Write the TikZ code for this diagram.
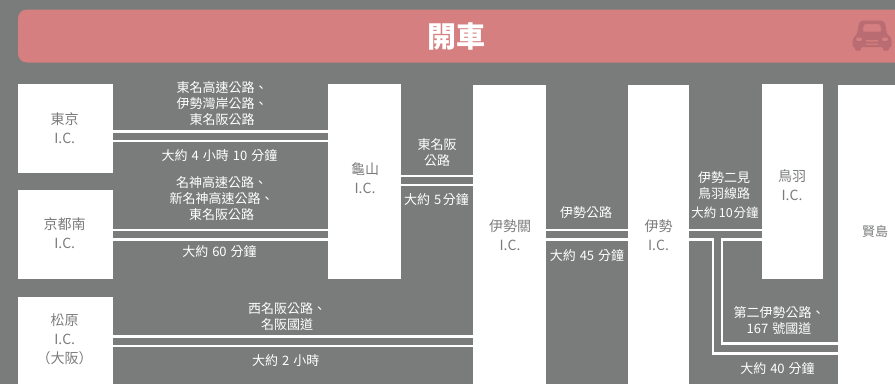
\documentclass[tikz,border=0pt]{standalone}
\usepackage{fontspec}
\setmainfont{Noto Sans CJK TC}
\definecolor{bgc}{HTML}{7A7C7B}
\definecolor{bannerc}{HTML}{D67F80}
\definecolor{carc}{HTML}{B96C72}
\newcommand{\rsp}{\hspace{4pt}}
\tikzset{
  x=1pt,y=1pt,
  icbox/.style={fill=white,draw=none,inner sep=0pt,anchor=north west},
  boxtext/.style={text=bgc,font=\fontsize{14}{19}\selectfont,align=center,inner sep=0pt},
  roadtext/.style={text=white,font=\fontsize{13}{16}\selectfont,align=center,inner sep=0pt},
  road/.style={draw=white,line width=2.4pt},
}
\begin{document}
\begin{tikzpicture}
\useasboundingbox (0,0) rectangle (895,-384);
\fill[bgc] (0,0) rectangle (895,-384);
\begin{scope}
\clip (0,0) rectangle (895,-384);
\fill[bannerc,rounded corners=9pt] (18,-9.5) rectangle (915,-62.5);
% boxes
\node[icbox,minimum width=95pt,minimum height=89pt] (tokyo) at (18,-84) {};
\node[icbox,minimum width=95pt,minimum height=89pt] (kyoto) at (18,-190) {};
\node[icbox,minimum width=95pt,minimum height=87pt] (matsu) at (18,-297) {};
\node[icbox,minimum width=73pt,minimum height=195pt] (kame) at (328,-84) {};
\node[icbox,minimum width=73pt,minimum height=299pt] (sekiic) at (473,-85) {};
\node[icbox,minimum width=61pt,minimum height=299pt] (iseic) at (628,-85) {};
\node[icbox,minimum width=61pt,minimum height=195pt] (toba) at (762,-84) {};
\node[icbox,minimum width=60pt,minimum height=299pt] (kashi) at (838,-85) {};
% level coordinates
\coordinate (la) at (0,-131.3);
\coordinate (lb) at (0,-141);
\coordinate (lc) at (0,-230.2);
\coordinate (ld) at (0,-239.4);
\coordinate (le) at (0,-336.5);
\coordinate (lf) at (0,-346);
\coordinate (lg) at (0,-176);
\coordinate (lh) at (0,-185);
\coordinate (li) at (0,-343.3);
\coordinate (lj) at (0,-353.3);
\coordinate (va) at (712.8,0);
\coordinate (vb) at (722,0);
% connectors
\draw[road] (tokyo.east |- la) -- (kame.west |- la);
\draw[road] (tokyo.east |- lb) -- (kame.west |- lb);
\draw[road] (kyoto.east |- lc) -- (kame.west |- lc);
\draw[road] (kyoto.east |- ld) -- (kame.west |- ld);
\draw[road] (matsu.east |- le) -- (sekiic.west |- le);
\draw[road] (matsu.east |- lf) -- (sekiic.west |- lf);
\draw[road] (kame.east |- lg) -- (sekiic.west |- lg);
\draw[road] (kame.east |- lh) -- (sekiic.west |- lh);
\draw[road] (sekiic.east |- lc) -- (iseic.west |- lc);
\draw[road] (sekiic.east |- ld) -- (iseic.west |- ld);
\draw[road] (iseic.east |- lc) -- (toba.west |- lc);
\draw[road] (iseic.east |- ld) -- (va |- ld) -- (va |- lj) -- (kashi.west |- lj);
\draw[road] (toba.west |- ld) -- (vb |- ld) -- (vb |- li) -- (kashi.west |- li);
% title
\node[text=white,font=\fontsize{29}{32}\selectfont\bfseries,inner sep=0pt] (title) at (456.5,-37) {開車};
% car icon
\fill[carc,even odd rule,rounded corners=1.2pt] (857,-34) -- (859,-23) -- (862,-20.5) -- (882,-20.5) -- (885,-23) -- (887,-34) -- (890.5,-37) -- (891.7,-40) -- (891.7,-47) -- (889,-47) -- (889,-50.5) -- (883,-50.5) -- (883,-47) -- (861,-47) -- (861,-50.5) -- (855,-50.5) -- (855,-47) -- (852.7,-47) -- (852.7,-40) -- (854,-37) -- cycle
 (862.5,-31.5) -- (864,-24) -- (880,-24) -- (881.5,-31.5) -- cycle
 (856,-37.5) rectangle (862,-41)
 (882,-37.5) rectangle (888,-41)
 (865,-40) rectangle (879,-41.5)
 (865,-43.5) rectangle (879,-44.8);
% box labels
\node[boxtext] (t1) at (64.7,-128) {東京\\I.C.};
\node[boxtext] (t2) at (64.7,-233) {京都南\\I.C.};
\node[boxtext] (t3) at (64.7,-339) {松原\\I.C.\\（大阪）};
\node[boxtext] (t4) at (365,-178) {龜山\\I.C.};
\node[boxtext] (t5) at (510,-235) {伊勢關\\I.C.};
\node[boxtext] (t6) at (658.5,-235) {伊勢\\I.C.};
\node[boxtext] (t7) at (792,-185.5) {鳥羽\\I.C.};
\node[boxtext,font=\fontsize{13}{16}\selectfont] (t8) at (875.2,-231.5) {賢島};
% road labels
\node[roadtext] (r1) at (222,-103.3) {東名高速公路、\\伊勢灣岸公路、\\東名阪公路};
\node[roadtext] (r2) at (219.5,-155.5) {大約\rsp 4\rsp 小時\rsp 10\rsp 分鐘};
\node[roadtext] (r3) at (221.5,-198.3) {名神高速公路、\\新名神高速公路、\\東名阪公路};
\node[roadtext] (r4) at (219.5,-252) {大約\rsp 60\rsp 分鐘};
\node[roadtext] (r5) at (287,-316.5) {西名阪公路、\\名阪國道};
\node[roadtext] (r6) at (285.7,-361) {大約\rsp 2\rsp 小時};
\node[roadtext] (r7) at (437,-152.3) {東名阪\\公路};
\node[roadtext] (r8) at (436.5,-199.5) {大約\rsp 5\hspace{1.5pt}分鐘};
\node[roadtext] (r9) at (586,-212.5) {伊勢公路};
\node[roadtext] (r10) at (587,-255.5) {大約\rsp 45\rsp 分鐘};
\node[roadtext] (r11) at (724,-185.3) {伊勢二見\\鳥羽線路};
\node[roadtext,font=\fontsize{12.5}{16}\selectfont] (r12) at (725,-212.5) {大約\hspace{2.5pt}10\hspace{1pt}分鐘};
\node[roadtext] (r13) at (779,-320.5) {第二伊勢公路、\\167\rsp 號國道};
\node[roadtext] (r14) at (777.5,-368.5) {大約\rsp 40\rsp 分鐘};
\end{scope}
\end{tikzpicture}
\end{document}
